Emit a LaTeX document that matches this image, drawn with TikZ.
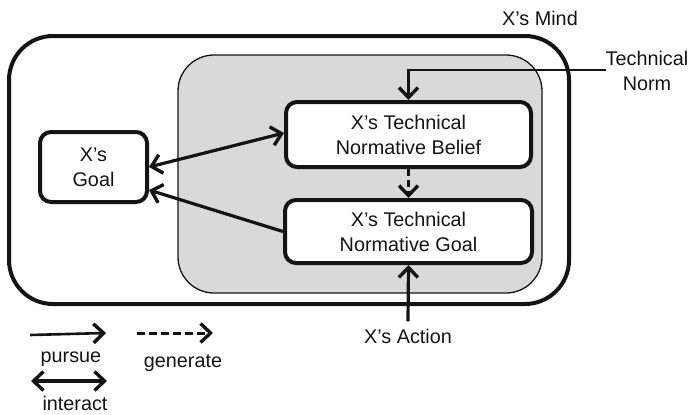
\documentclass[tikz,border=0pt]{standalone}
\usepackage{fontspec}
\setmainfont{Liberation Sans}
\usetikzlibrary{arrows.meta,calc}
\definecolor{ink}{HTML}{141414}
\definecolor{shade}{HTML}{D9D9D9}
\tikzset{
  lbl/.style={font=\fontsize{19.8}{25}\selectfont, text=ink, align=center, inner sep=0pt},
  rbox/.style={lbl, draw=ink, line width=4pt, rounded corners=11pt, fill=white},
  barb/.tip={Straight Barb[length=10pt,width=19pt,line width=3.4pt]},
  tip/.style={-{barb}},
  bitip/.style={{barb}-{barb}},
  link/.style={draw=ink, line width=3.2pt},
}
\begin{document}
\begin{tikzpicture}[x=1pt,y=-1pt]
\useasboundingbox (0,0) rectangle (691,415);

% mind boundary and the technical-normative region
\draw[ink, line width=4pt, rounded corners=44pt] (9,36) rectangle (569,304);
\draw[ink, fill=shade, line width=1.3pt, rounded corners=36pt] (178,55) rectangle (542,293);
\node[lbl] (mind) at (540,18) {X’s Mind};

% boxes
\node[rbox, minimum width=107pt, minimum height=70pt] (goal) at (93.5,167) {X’s\\Goal};
\node[rbox, minimum width=245pt, minimum height=65pt] (belief) at (408.5,134.5) {X’s Technical\\Normative Belief};
\node[rbox, minimum width=247pt, minimum height=63pt] (ngoal) at (408.5,231.5) {X’s Technical\\Normative Goal};

% outside inputs
\node[lbl] (norm) at (647,71) {Technical\\Norm};
\coordinate (normin) at (606,70);
\node[lbl, anchor=base] (action) at (408,343) {X’s Action};

% connectors
\draw[link, line width=2.4pt, tip] (normin) -| (belief.north);
\draw[link, tip, dash pattern=on 7pt off 4pt] (belief.south) -- (ngoal.north);
\draw[link, tip] ([yshift=7pt]action.north) -- (ngoal.south);
\draw[link, bitip] (goal.east) -- ([yshift=1.5pt]belief.west);
\draw[link, tip] (ngoal.west) -- ([yshift=-23pt]goal.east);

% legend
\coordinate (p1) at (30,335);  \coordinate (p2) at (106,333);
\coordinate (g1) at (137,333); \coordinate (g2) at (213,333);
\coordinate (i1) at (31,381);  \coordinate (i2) at (107,381);
\draw[link, line width=2.6pt, tip] (p1) -- (p2);
\draw[link, line width=3pt, tip, dash pattern=on 8pt off 4pt] (g1) -- (g2);
\draw[link, bitip] (i1) -- (i2);
\node[lbl, anchor=base] (pursue) at (71,362) {pursue};
\node[lbl, anchor=base] (generate) at (183,367) {generate};
\node[lbl, anchor=base] (interact) at (75,410) {interact};
\end{tikzpicture}
\end{document}
